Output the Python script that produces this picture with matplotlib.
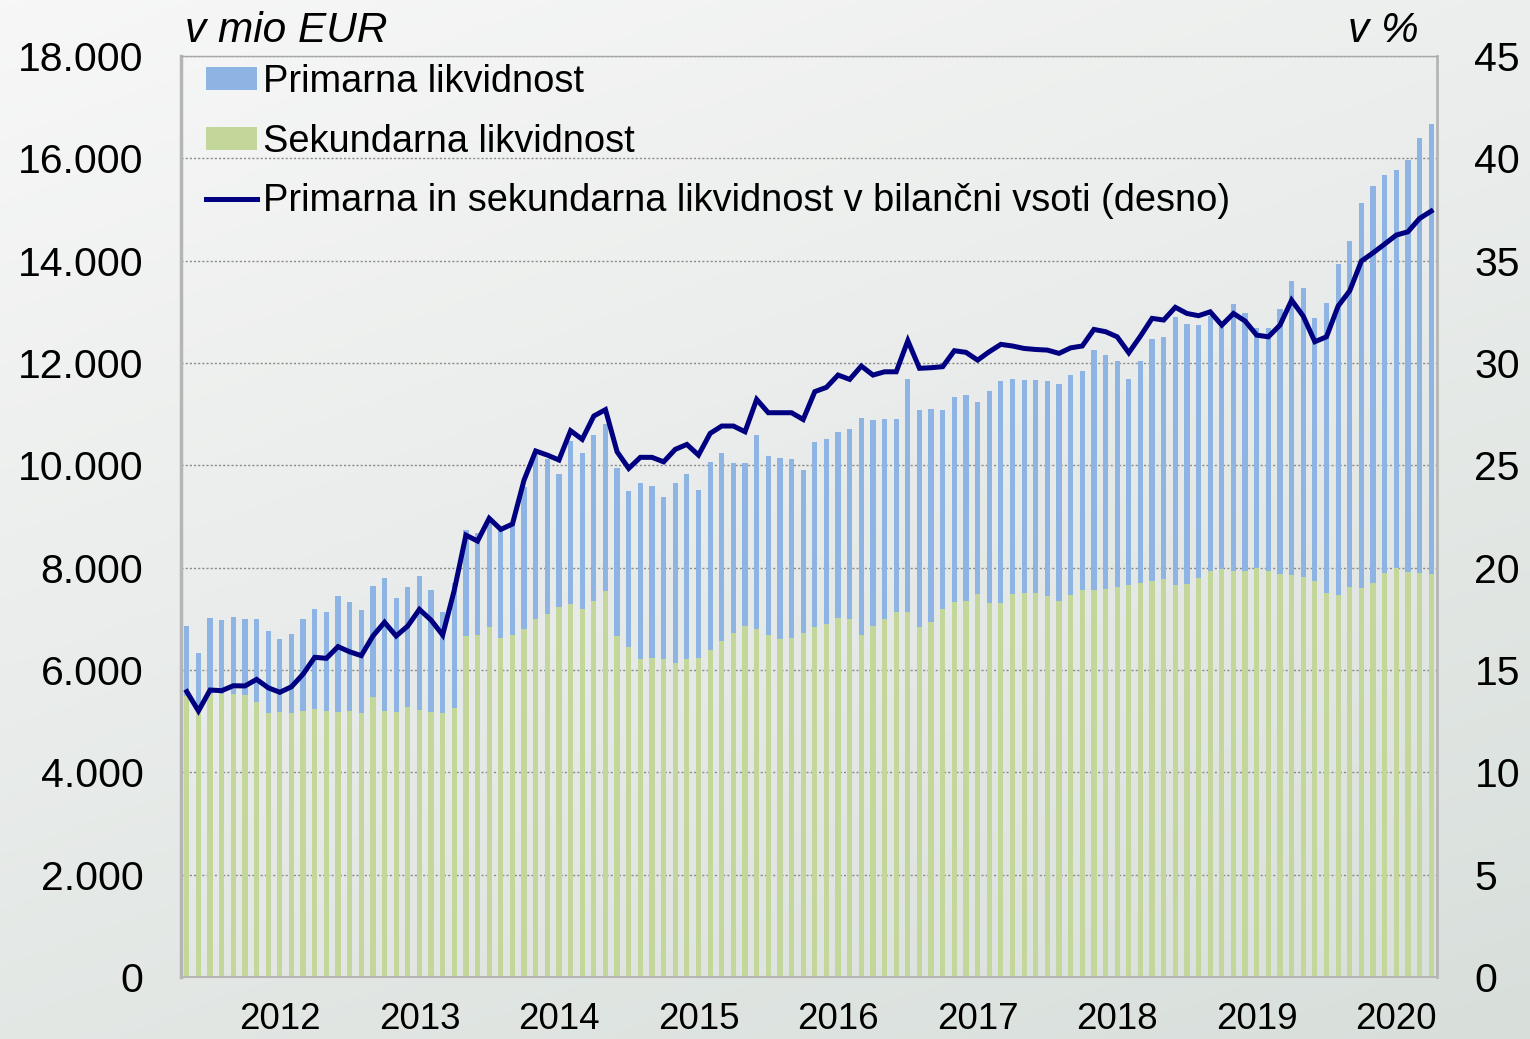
import numpy as np
import matplotlib
matplotlib.use("Agg")
import matplotlib.pyplot as plt
from matplotlib.colors import LinearSegmentedColormap
from matplotlib.patches import Patch
from matplotlib.lines import Line2D
from matplotlib.ticker import FuncFormatter

plt.rcParams["font.family"] = ["Liberation Sans", "DejaVu Sans"]

YEARS = ["2012", "2013", "2014", "2015", "2016", "2017", "2018", "2019", "2020"]

# top of each stacked bar (primary + secondary liquidity), mio EUR, monthly
TOTAL = [
    6860, 6330, 7010, 6970, 7040, 6990, 6990, 6760, 6610, 6700, 7000, 7200,
    7140, 7440, 7330, 7170, 7650, 7790, 7410, 7630, 7830, 7560, 7140, 7700,
    8730, 8670, 8900, 8730, 8870, 9570, 10200, 10120, 9830, 10470, 10250, 10600,
    10800, 9950, 9500, 9650, 9590, 9380, 9650, 9830, 9510, 10070, 10250, 10050,
    10050, 10590, 10190, 10140, 10130, 9910, 10450, 10510, 10660, 10710, 10930, 10880,
    10900, 10900, 11680, 11090, 11110, 11080, 11330, 11370, 11240, 11450, 11650, 11680,
    11660, 11660, 11650, 11590, 11770, 11850, 12250, 12150, 12030, 11680, 12040, 12470,
    12500, 12890, 12760, 12750, 12910, 12710, 13150, 12970, 12680, 12680, 13050, 13600,
    13460, 12870, 13180, 13930, 14380, 15120, 15460, 15670, 15770, 15960, 16390, 16680,
]

SECONDARY = [
    5500, 5170, 5540, 5540, 5530, 5510, 5380, 5165, 5178, 5165, 5198, 5237,
    5198, 5184, 5198, 5165, 5465, 5198, 5184, 5270, 5217, 5184, 5152, 5262,
    6663, 6683, 6845, 6630, 6683, 6800, 6995, 7093, 7236, 7294, 7191, 7347,
    7542, 6657, 6448, 6214, 6240, 6208, 6142, 6214, 6240, 6390, 6572, 6728,
    6859, 6800, 6689, 6605, 6618, 6728, 6840, 6898, 7009, 6995, 6677, 6853,
    6990, 7126, 7126, 6845, 6943, 7185, 7328, 7347, 7478, 7314, 7314, 7484,
    7500, 7503, 7445, 7347, 7464, 7562, 7562, 7575, 7614, 7660, 7692, 7744,
    7783, 7660, 7679, 7796, 7940, 7966, 7933, 7933, 7986, 7940, 7875, 7855,
    7822, 7744, 7497, 7464, 7627, 7595, 7705, 7900, 7998, 7920, 7888, 7875,
]

# share of primary + secondary liquidity in total assets, % (right axis)
SHARE = [
    13.94, 13.00, 14.02, 13.99, 14.23, 14.22, 14.54, 14.13, 13.91, 14.18, 14.80, 15.62,
    15.57, 16.14, 15.89, 15.70, 16.66, 17.33, 16.66, 17.15, 17.96, 17.44, 16.71, 18.90,
    21.59, 21.30, 22.41, 21.87, 22.13, 24.28, 25.70, 25.50, 25.26, 26.69, 26.27, 27.41,
    27.72, 25.66, 24.85, 25.39, 25.39, 25.17, 25.78, 26.02, 25.50, 26.56, 26.92, 26.92,
    26.64, 28.22, 27.57, 27.57, 27.57, 27.24, 28.60, 28.81, 29.41, 29.20, 29.85, 29.41,
    29.57, 29.57, 31.09, 29.74, 29.77, 29.82, 30.60, 30.52, 30.14, 30.55, 30.91, 30.83,
    30.71, 30.66, 30.63, 30.47, 30.74, 30.83, 31.64, 31.53, 31.28, 30.50, 31.31, 32.18,
    32.10, 32.72, 32.42, 32.31, 32.50, 31.85, 32.42, 32.05, 31.36, 31.28, 31.85, 33.07,
    32.29, 31.04, 31.28, 32.78, 33.53, 34.98, 35.38, 35.81, 36.25, 36.41, 37.06, 37.42,
]

total = np.array(TOTAL, dtype=float)
secondary = np.array(SECONDARY, dtype=float)
primary = total - secondary
x = np.arange(len(total))

BLUE = "#8DB4E2"
GREEN = "#C4D79B"
NAVY = "#000080"

fig = plt.figure(figsize=(15.3, 10.39), dpi=100)

# soft diagonal gradient background
bg = fig.add_axes([0, 0, 1, 1], zorder=-10)
gy, gx = np.mgrid[0:1:200j, 0:1:200j]
cmap = LinearSegmentedColormap.from_list("bg", ["#f7f7f7", "#d8dfdb"])
bg.imshow(0.35 * gx + 0.65 * gy, cmap=cmap, aspect="auto", extent=[0, 1, 0, 1], origin="upper")
bg.axis("off")

ax = fig.add_axes([0.1183, 0.0597, 0.8209, 0.8864])
ax.patch.set_alpha(0)
ax.bar(x, secondary, width=0.45, color=GREEN, zorder=2)
ax.bar(x, primary, bottom=secondary, width=0.45, color=BLUE, zorder=2)

ax.set_xlim(-0.5, len(x) - 0.5)
ax.set_ylim(0, 18000)
ax.set_yticks(np.arange(0, 18001, 2000))
ax.yaxis.set_major_formatter(FuncFormatter(lambda v, p: f"{int(v):,}".replace(",", ".")))
ax.set_xticks(x[8::12])
ax.set_xticklabels(YEARS)
ax.tick_params(axis="y", labelsize=29.5, length=0, pad=27)
ax.tick_params(axis="x", labelsize=26.5, length=0, pad=18)
ax.grid(axis="y", color="#8a8a8a", ls=(0, (1.5, 1.5)), lw=1.0, zorder=1)
ax.set_axisbelow(True)

ax.spines["left"].set_color("#b5b5b5")
ax.spines["left"].set_linewidth(2.5)
ax.spines["bottom"].set_color("#b5b5b5")
ax.spines["bottom"].set_linewidth(1.5)
ax.spines["right"].set_color("#b5b5b5")
ax.spines["right"].set_linewidth(2.0)
ax.spines["top"].set_color("#a8a8a8")
ax.spines["top"].set_linewidth(1.0)

ax2 = ax.twinx()
ax2.plot(x, SHARE, color=NAVY, lw=3.6, solid_joinstyle="miter", zorder=3)
ax2.set_ylim(0, 45)
ax2.set_yticks(np.arange(0, 46, 5))
ax2.tick_params(axis="y", labelsize=29.5, length=0, pad=27)
for s in ax2.spines.values():
    s.set_visible(False)

fig.text(0.121, 0.970, "v mio EUR", fontsize=30.5, style="italic", ha="left", va="center")
fig.text(0.927, 0.970, "v %", fontsize=30.5, style="italic", ha="right", va="center")

handles = [
    Patch(facecolor=BLUE, edgecolor="none"),
    Patch(facecolor=GREEN, edgecolor="none"),
    Line2D([0], [0], color=NAVY, lw=3.6),
]
labels = [
    "Primarna likvidnost",
    "Sekundarna likvidnost",
    "Primarna in sekundarna likvidnost v bilančni vsoti (desno)",
]
ax2.legend(handles, labels, loc="upper left", bbox_to_anchor=(0.0199, 0.991),
           frameon=False, fontsize=27.4, handlelength=1.35, handleheight=0.55,
           handletextpad=0.15, labelspacing=0.62, borderpad=0, borderaxespad=0)

fig.savefig("out.png", dpi=100)
